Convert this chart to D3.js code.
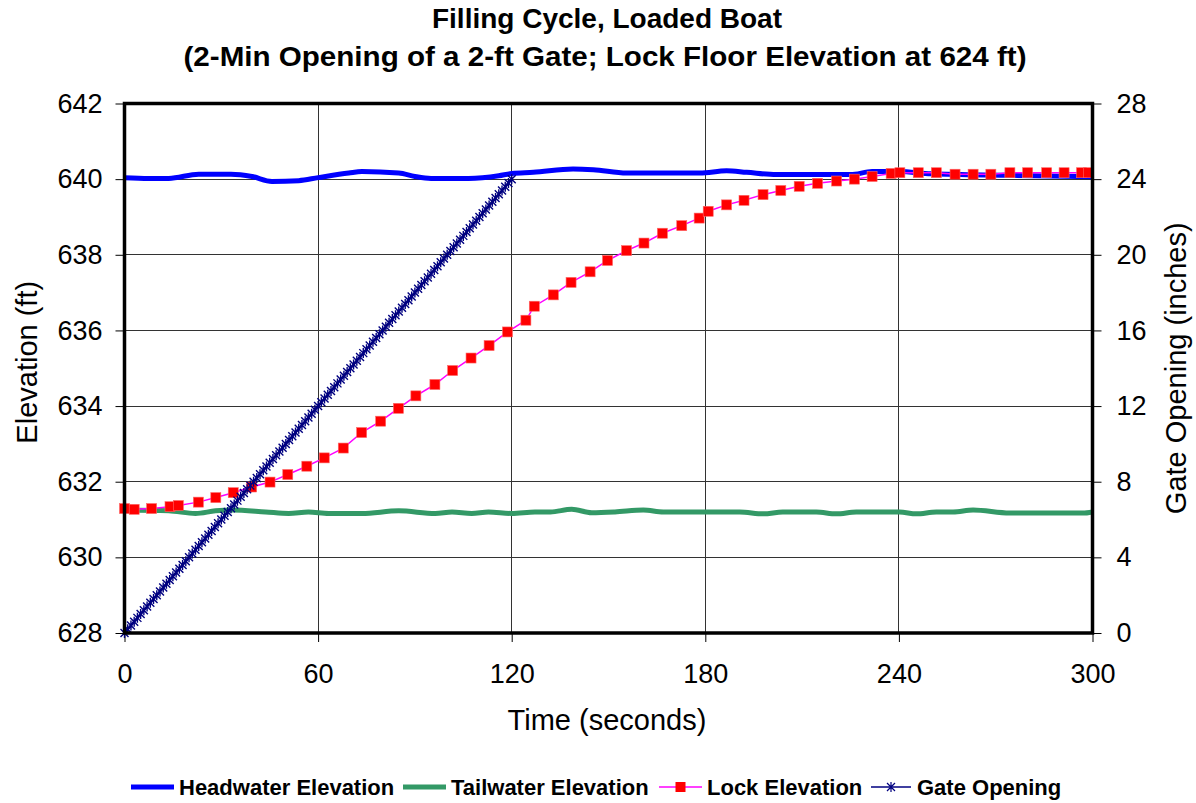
<!DOCTYPE html>
<html>
<head>
<meta charset="utf-8">
<script src="https://cdn.jsdelivr.net/npm/d3@7/dist/d3.min.js"></script>
<style>
  html, body { margin: 0; padding: 0; background: #fff; }
  svg { display: block; font-family: "Liberation Sans", Arial, sans-serif; }
</style>
</head>
<body>
<svg id="chart" width="1196" height="803"></svg>
<script>
// Headwater elevation (ft) vs time (s)
const headTime = [0, 7.5, 13.7, 23, 33, 39.5, 45.7, 54, 60, 69.5, 73.6, 85, 90, 95, 106.6, 116, 120,
  126.7, 139, 145.3, 155.6, 178.3, 186.6, 192.8, 202, 225, 231.7, 240, 250, 275, 300];
const headElev = [640.04, 640.02, 640.02, 640.13, 640.13, 640.07, 639.94, 639.96, 640.04, 640.16, 640.2,
  640.16, 640.07, 640.02, 640.02, 640.09, 640.15, 640.18, 640.27, 640.25, 640.16, 640.16, 640.22, 640.18,
  640.12, 640.12, 640.2, 640.2, 640.14, 640.1, 640.06];

// Tailwater elevation (ft) vs time (s)
const tailTime = [0, 13.7, 22, 28.2, 33.3, 43.7, 50.9, 57, 63.3, 73.6, 85, 96.3, 101.5, 107.6, 112.8, 120,
  127.2, 132, 138.6, 144.8, 152, 160.8, 167, 190.7, 198, 204, 214.4, 220.6, 226.8, 240.2, 245.4, 251.6,
  256.8, 263, 274.3, 297, 300];
const tailElev = [631.25, 631.23, 631.16, 631.23, 631.25, 631.2, 631.16, 631.2, 631.16, 631.16, 631.23,
  631.16, 631.2, 631.16, 631.2, 631.16, 631.2, 631.2, 631.27, 631.18, 631.2, 631.25, 631.2, 631.2, 631.15,
  631.2, 631.2, 631.15, 631.2, 631.2, 631.15, 631.2, 631.2, 631.25, 631.17, 631.17, 631.2];

// Lock chamber water surface (ft) vs time (s)
const lockTime = [0, 3, 8.4, 14.1, 16.7, 22.9, 28.3, 33.7, 39.4, 45.1, 50.6, 56.5, 61.9, 67.8, 73.5, 79.4,
  84.9, 90.3, 96.2, 101.7, 107.4, 113, 118.7, 124.4, 127, 132.9, 138.4, 144.3, 149.7, 155.6, 161, 166.7,
  172.7, 178.1, 180.9, 186.6, 192, 197.9, 203.4, 209.1, 214.8, 220.7, 226.2, 231.7, 237.6, 240.3, 246,
  251.6, 257.4, 263, 268.5, 274.4, 279.9, 285.8, 291.2, 296.6, 298.7];
const lockElev = [631.29, 631.27, 631.29, 631.34, 631.37, 631.46, 631.58, 631.71, 631.86, 631.99, 632.19,
  632.41, 632.63, 632.89, 633.3, 633.6, 633.94, 634.27, 634.57, 634.94, 635.27, 635.6, 635.96, 636.27,
  636.64, 636.94, 637.27, 637.55, 637.85, 638.11, 638.31, 638.57, 638.77, 638.97, 639.15, 639.32, 639.44,
  639.59, 639.7, 639.81, 639.89, 639.95, 640.0, 640.07, 640.15, 640.17, 640.17, 640.17, 640.13, 640.13,
  640.13, 640.17, 640.17, 640.17, 640.17, 640.17, 640.17];

// Gate opening (inches) vs time (s)
const gateTime = [0, 1, 2, 3, 4, 5, 6, 7, 8, 9, 10, 11, 12, 13, 14, 15, 16, 17, 18, 19, 20, 21, 22, 23, 24,
  25, 26, 27, 28, 29, 30, 31, 32, 33, 34, 35, 36, 37, 38, 39, 40, 41, 42, 43, 44, 45, 46, 47, 48, 49, 50,
  51, 52, 53, 54, 55, 56, 57, 58, 59, 60, 61, 62, 63, 64, 65, 66, 67, 68, 69, 70, 71, 72, 73, 74, 75, 76,
  77, 78, 79, 80, 81, 82, 83, 84, 85, 86, 87, 88, 89, 90, 91, 92, 93, 94, 95, 96, 97, 98, 99, 100, 101,
  102, 103, 104, 105, 106, 107, 108, 109, 110, 111, 112, 113, 114, 115, 116, 117, 118, 119, 120];
const gateInches = [0, 0.2, 0.4, 0.6, 0.8, 1.0, 1.2, 1.4, 1.6, 1.8, 2.0, 2.2, 2.4, 2.6, 2.8, 3.0, 3.2, 3.4,
  3.6, 3.8, 4.0, 4.2, 4.4, 4.6, 4.8, 5.0, 5.2, 5.4, 5.6, 5.8, 6.0, 6.2, 6.4, 6.6, 6.8, 7.0, 7.2, 7.4, 7.6,
  7.8, 8.0, 8.2, 8.4, 8.6, 8.8, 9.0, 9.2, 9.4, 9.6, 9.8, 10.0, 10.2, 10.4, 10.6, 10.8, 11.0, 11.2, 11.4,
  11.6, 11.8, 12.0, 12.2, 12.4, 12.6, 12.8, 13.0, 13.2, 13.4, 13.6, 13.8, 14.0, 14.2, 14.4, 14.6, 14.8,
  15.0, 15.2, 15.4, 15.6, 15.8, 16.0, 16.2, 16.4, 16.6, 16.8, 17.0, 17.2, 17.4, 17.6, 17.8, 18.0, 18.2,
  18.4, 18.6, 18.8, 19.0, 19.2, 19.4, 19.6, 19.8, 20.0, 20.2, 20.4, 20.6, 20.8, 21.0, 21.2, 21.4, 21.6,
  21.8, 22.0, 22.2, 22.4, 22.6, 22.8, 23.0, 23.2, 23.4, 23.6, 23.8, 24.0];

// Axis ticks
const timeTicks = [0, 60, 120, 180, 240, 300];
const elevTicks = [628, 630, 632, 634, 636, 638, 640, 642];
const gateTicks = [0, 4, 8, 12, 16, 20, 24, 28];

const titleLines = ["Filling Cycle, Loaded Boat",
  "(2-Min Opening of a 2-ft Gate; Lock Floor Elevation at 624 ft)"];
const seriesNames = ["Headwater Elevation", "Tailwater Elevation", "Lock Elevation", "Gate Opening"];

const svg = d3.select("#chart");
const plot = { left: 124.5, right: 1092.5, top: 103.5, bottom: 633 };

const x = d3.scaleLinear().domain([0, 300]).range([plot.left, plot.right]);
const y = d3.scaleLinear().domain([628, 642]).range([plot.bottom, plot.top]);
const y2 = d3.scaleLinear().domain([0, 28]).range([plot.bottom, plot.top]);

// Gridlines
const grid = svg.append("g").attr("shape-rendering", "crispEdges");
grid.selectAll("line.h").data(elevTicks.slice(1, -1)).join("line")
  .attr("x1", plot.left).attr("x2", plot.right)
  .attr("y1", d => y(d)).attr("y2", d => y(d))
  .attr("stroke", "#333").attr("stroke-width", 1);
grid.selectAll("line.v").data(timeTicks.slice(1, -1)).join("line")
  .attr("y1", plot.top).attr("y2", plot.bottom)
  .attr("x1", d => x(d)).attr("x2", d => x(d))
  .attr("stroke", "#333").attr("stroke-width", 1);

// Axes
const fontSize = 27;
const axL = svg.append("g").attr("transform", `translate(${plot.left},0)`)
  .call(d3.axisLeft(y).tickValues(elevTicks).tickSize(9).tickPadding(13));
const axR = svg.append("g").attr("transform", `translate(${plot.right},0)`)
  .call(d3.axisRight(y2).tickValues(gateTicks).tickSize(9).tickPadding(15));
const axB = svg.append("g").attr("transform", `translate(0,${plot.bottom})`)
  .call(d3.axisBottom(x).tickValues(timeTicks).tickSize(9).tickPadding(22));
[axL, axR, axB].forEach(g => {
  g.select(".domain").remove();
  g.selectAll(".tick line").attr("stroke", "#000").attr("stroke-width", 1);
  g.selectAll(".tick text").attr("font-size", fontSize).attr("fill", "#000")
    .attr("font-family", "'Liberation Sans', Arial, sans-serif");
});

// Series lines
const lineOf = (xs, ys, yScale, curve) => d3.line()
  .x((d, i) => x(xs[i])).y((d, i) => yScale(ys[i])).curve(curve);

svg.append("path").datum(headElev)
  .attr("d", lineOf(headTime, headElev, y, d3.curveMonotoneX))
  .attr("fill", "none").attr("stroke", "#0000ff").attr("stroke-width", 5)
  .attr("stroke-linejoin", "round");

svg.append("path").datum(tailElev)
  .attr("d", lineOf(tailTime, tailElev, y, d3.curveMonotoneX))
  .attr("fill", "none").attr("stroke", "#339966").attr("stroke-width", 5)
  .attr("stroke-linejoin", "round");

svg.append("path").datum(lockElev)
  .attr("d", lineOf(lockTime, lockElev, y, d3.curveLinear))
  .attr("fill", "none").attr("stroke", "#ff00ff").attr("stroke-width", 1.5);

svg.append("path").datum(gateInches)
  .attr("d", lineOf(gateTime, gateInches, y2, d3.curveLinear))
  .attr("fill", "none").attr("stroke", "#000080").attr("stroke-width", 2.5);

// Markers
const sq = 10;
svg.append("g").selectAll("rect").data(lockElev).join("rect")
  .attr("x", (d, i) => x(lockTime[i]) - sq / 2)
  .attr("y", d => y(d) - sq / 2)
  .attr("width", sq).attr("height", sq)
  .attr("fill", "#ff0000").attr("stroke", "#ff6666").attr("stroke-width", 0.6);

const starPath = "M-4,-4L4,4M-4,4L4,-4M0,-5L0,5";
svg.append("g").selectAll("path").data(gateInches).join("path")
  .attr("transform", (d, i) => `translate(${x(gateTime[i])},${y2(d)})`)
  .attr("d", starPath).attr("fill", "none")
  .attr("stroke", "#000080").attr("stroke-width", 1.4);

// Plot frame
svg.append("rect")
  .attr("x", plot.left).attr("y", plot.top)
  .attr("width", plot.right - plot.left).attr("height", plot.bottom - plot.top)
  .attr("fill", "none").attr("stroke", "#000").attr("stroke-width", 3.5);

// Titles
svg.append("text").attr("x", 607).attr("y", 28)
  .attr("text-anchor", "middle").attr("font-size", 28).attr("font-weight", "bold")
  .text(titleLines[0]);
svg.append("text").attr("x", 605).attr("y", 66)
  .attr("text-anchor", "middle").attr("font-size", 28).attr("font-weight", "bold")
  .attr("textLength", 843).attr("lengthAdjust", "spacingAndGlyphs")
  .text(titleLines[1]);

svg.append("text").attr("x", 607).attr("y", 730)
  .attr("text-anchor", "middle").attr("font-size", 29).text("Time (seconds)");

svg.append("text").attr("transform", `translate(37,${(plot.top + plot.bottom) / 2 - 6}) rotate(-90)`)
  .attr("text-anchor", "middle").attr("font-size", 29).text("Elevation (ft)");

svg.append("text").attr("transform", `translate(1186,${(plot.top + plot.bottom) / 2}) rotate(-90)`)
  .attr("text-anchor", "middle").attr("font-size", 29).text("Gate Opening (inches)");

// Legend
const legend = svg.append("g").attr("font-size", 22).attr("font-weight", "bold");
const legendY = 787;
const starts = [131, 403, 659, 871];
seriesNames.forEach((name, i) => {
  const x0 = starts[i];
  const g = legend.append("g");
  if (i === 0 || i === 1) {
    g.append("line").attr("x1", x0).attr("x2", x0 + 43).attr("y1", legendY).attr("y2", legendY)
      .attr("stroke", i === 0 ? "#0000ff" : "#339966").attr("stroke-width", 5);
  } else if (i === 2) {
    g.append("line").attr("x1", x0).attr("x2", x0 + 43).attr("y1", legendY).attr("y2", legendY)
      .attr("stroke", "#ff00ff").attr("stroke-width", 1.5);
    g.append("rect").attr("x", x0 + 21.5 - 5).attr("y", legendY - 5).attr("width", 10).attr("height", 10)
      .attr("fill", "#ff0000");
  } else {
    g.append("line").attr("x1", x0).attr("x2", x0 + 40).attr("y1", legendY).attr("y2", legendY)
      .attr("stroke", "#000080").attr("stroke-width", 1.5);
    g.append("path").attr("transform", `translate(${x0 + 20},${legendY})`).attr("d", starPath)
      .attr("fill", "none").attr("stroke", "#000080").attr("stroke-width", 1.2);
  }
  g.append("text").attr("x", x0 + (i === 3 ? 46 : 48)).attr("y", legendY + 8).text(name);
});
</script>
</body>
</html>
